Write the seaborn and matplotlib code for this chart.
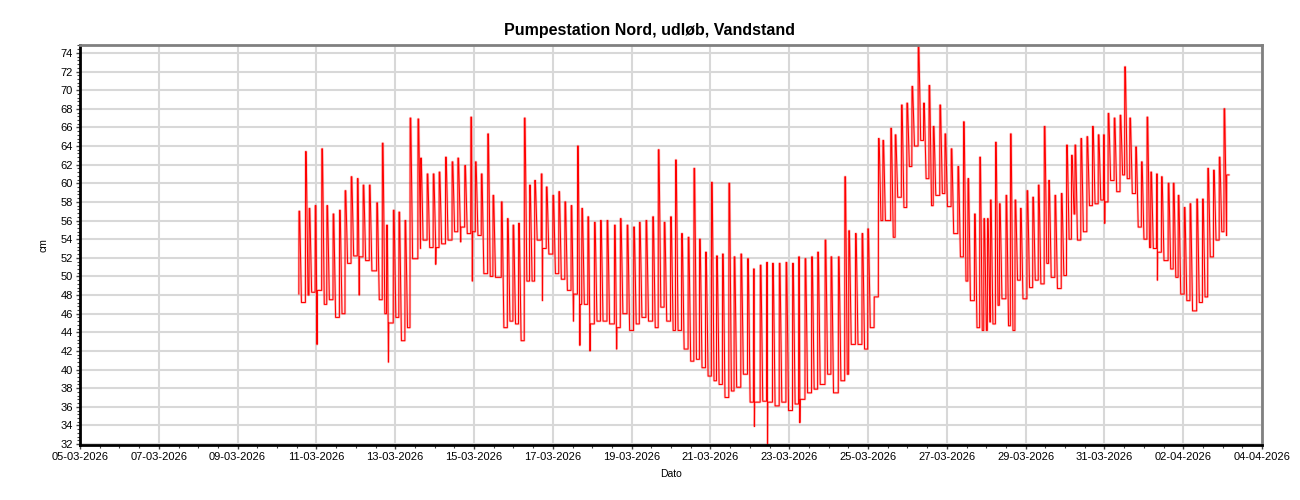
import numpy as np
import pandas as pd
import matplotlib
matplotlib.use("Agg")
import matplotlib.pyplot as plt
import matplotlib.dates as mdates
import seaborn as sns

# Pump cycles: hours after 10-03-2026 00:00, top level and level after the pump stops (cm)
tooth_hour = [13.3, 17.3, 19.5, 23.2, 27.2, 30.3, 34.1, 38.0, 41.4, 45.1,
              48.9, 52.4, 56.2, 60.7, 64.1, 66.7, 70.8, 74.2, 77.9, 81.0,
              85.8, 87.4, 91.4, 95.1, 98.7, 102.6, 106.6, 110.1, 114.3, 118.0,
              120.8, 124.4, 128.3, 131.5, 136.6, 140.3, 143.7, 147.1, 150.6, 153.8,
              156.9, 160.9, 164.0, 168.0, 171.6, 175.3, 179.1, 183.0, 185.6, 189.3,
              193.3, 197.0, 201.0, 205.5, 209.1, 213.2, 217.2, 220.7, 224.7, 228.8,
              232.2, 235.8, 239.7, 242.7, 246.4, 250.4, 253.9, 257.3, 261.0, 264.6,
              267.7, 271.3, 275.2, 278.4, 282.5, 286.6, 290.2, 294.3, 298.2, 301.8,
              305.9, 310.0, 314.0, 317.7, 321.6, 325.6, 329.3, 333.8, 337.4, 341.9,
              345.8, 348.2, 352.3, 356.3, 359.8, 363.7, 366.3, 369.0, 373.8, 376.5,
              380.3, 383.6, 386.7, 390.5, 393.8, 397.1, 399.7, 403.7, 406.8, 410.6,
              414.7, 418.1, 420.8, 424.8, 428.0, 430.5, 432.7, 434.5, 437.6, 440.0,
              444.0, 446.7, 449.5, 452.8, 456.8, 460.3, 463.7, 467.3, 470.0, 473.8,
              477.7, 480.9, 483.9, 486.0, 489.6, 493.3, 496.7, 500.2, 503.4, 506.2,
              509.9, 513.5, 516.3, 519.4, 523.0, 526.5, 529.9, 532.2, 535.7, 538.7,
              542.8, 545.9, 548.9, 552.6, 556.1, 560.2, 563.7, 566.9, 570.4, 573.9,
              576.8, 578.4]
tooth_peak = [57.0, 63.4, 57.3, 57.6, 63.7, 57.6, 56.7, 57.1, 59.2, 60.7,
              60.5, 59.8, 59.8, 57.9, 64.3, 55.5, 57.1, 56.9, 56.0, 67.0,
              66.9, 62.7, 61.0, 61.0, 61.2, 62.8, 62.3, 62.7, 61.9, 67.1,
              62.3, 61.0, 65.3, 58.7, 58.0, 56.2, 55.5, 55.7, 67.0, 59.8,
              60.3, 61.0, 59.6, 58.7, 59.1, 58.0, 57.6, 64.0, 57.3, 56.4,
              55.8, 56.0, 56.0, 55.5, 56.2, 55.5, 55.3, 55.8, 56.0, 56.4,
              63.6, 55.8, 56.4, 62.5, 54.6, 54.2, 61.6, 54.0, 52.6, 60.1,
              52.2, 52.4, 60.0, 52.1, 52.4, 51.9, 50.8, 51.2, 51.5, 51.4,
              51.4, 51.5, 51.4, 52.1, 51.9, 52.1, 52.6, 53.9, 52.1, 52.1,
              60.7, 54.9, 54.6, 54.6, 55.1, 47.8, 64.8, 64.6, 65.9, 65.2,
              68.4, 68.6, 70.4, 74.7, 68.6, 70.5, 66.1, 68.4, 65.3, 63.7,
              61.8, 66.6, 60.5, 56.7, 62.8, 56.2, 56.2, 58.2, 64.4, 57.8,
              58.7, 65.3, 58.2, 57.3, 59.2, 58.5, 59.8, 66.1, 60.3, 58.7,
              58.9, 64.1, 63.0, 64.1, 64.8, 65.0, 66.1, 65.2, 65.2, 67.5,
              67.0, 67.3, 72.5, 67.0, 63.9, 62.3, 67.1, 61.2, 61.0, 60.7,
              60.0, 60.0, 58.7, 57.4, 57.8, 58.3, 58.3, 61.6, 61.4, 62.8,
              68.0, 60.9]
tooth_low = [47.2, 48.0, 48.3, 48.5, 47.0, 47.5, 45.6, 46.0, 51.4, 52.2,
             52.1, 51.7, 50.6, 47.5, 46.0, 45.0, 45.6, 43.1, 44.5, 51.9,
             53.0, 53.9, 53.1, 53.1, 53.5, 53.9, 54.8, 55.3, 54.6, 54.8,
             54.4, 50.3, 50.0, 49.9, 44.5, 45.2, 44.9, 43.1, 49.5, 49.5,
             53.9, 53.0, 52.4, 50.3, 49.7, 48.5, 48.1, 47.0, 47.0, 44.9,
             45.2, 45.2, 44.9, 44.5, 46.0, 44.2, 44.9, 45.6, 45.2, 44.5,
             46.7, 45.2, 44.2, 44.2, 42.2, 40.9, 41.1, 40.2, 39.3, 38.8,
             38.4, 37.0, 37.7, 38.1, 39.5, 36.5, 36.5, 36.6, 36.5, 36.1,
             36.5, 35.6, 36.3, 36.8, 37.5, 37.9, 38.4, 39.5, 37.5, 38.8,
             39.5, 42.7, 42.7, 42.2, 44.5, 47.8, 56.0, 56.0, 54.2, 58.5,
             57.4, 61.8, 64.0, 64.6, 60.5, 57.6, 58.7, 58.9, 57.5, 54.6,
             52.1, 49.5, 47.4, 44.5, 44.2, 44.2, 45.1, 44.9, 46.9, 47.6,
             44.7, 44.2, 49.6, 47.6, 48.8, 49.6, 49.2, 51.4, 49.9, 48.7,
             50.1, 54.0, 56.7, 53.9, 54.8, 57.6, 57.8, 58.2, 58.0, 60.3,
             59.1, 60.9, 60.5, 58.9, 55.3, 54.0, 53.1, 53.0, 52.6, 51.7,
             50.8, 49.9, 48.1, 47.4, 46.3, 47.2, 47.8, 52.1, 53.9, 54.8,
             54.4, 60.9]
start_cm = 48.1

# short downward spikes
dip_hour = [24.4, 50.1, 67.9, 96.7, 111.9, 119.0, 161.7, 180.6, 184.5, 190.7,
            206.9, 290.8, 298.8, 318.5, 504.2, 536.3]
dip_cm = [42.7, 48.0, 40.8, 51.3, 53.7, 49.5, 47.4, 45.2, 42.6, 42.0,
          42.2, 33.9, 32.0, 34.3, 55.7, 49.6]

# build the line vertices: rise, short top, fall
hours, levels = [], []
prev = start_cm
for h, p, lo in zip(tooth_hour, tooth_peak, tooth_low):
    hours += [h, h + 0.1, h + 0.5, h + 1.6]
    levels += [prev, p, p, lo]
    prev = lo
tooth_hour_arr = np.array(tooth_hour)
for h, v in zip(dip_hour, dip_cm):
    i = np.searchsorted(tooth_hour_arr, h) - 1
    hours += [h, h + 0.15]
    levels += [v, tooth_low[i]]

df = pd.DataFrame({"hour": hours, "cm": levels}).sort_values("hour")
df["Dato"] = pd.Timestamp("2026-03-10") + pd.to_timedelta(df["hour"], unit="h")

sns.set_theme(style="white")
plt.rcParams["font.family"] = ["Liberation Sans", "DejaVu Sans"]
plt.rcParams["text.color"] = "black"
plt.rcParams["axes.labelcolor"] = "black"
plt.rcParams["xtick.color"] = "black"
plt.rcParams["ytick.color"] = "black"

fig = plt.figure(figsize=(13, 5), dpi=100)
ax = fig.add_axes([80 / 1300, 1 - 445 / 500, (1262 - 80) / 1300, (445 - 45) / 500])

# soft band under the trace (the original trace renders pinkish inside each pump cycle)
sns.lineplot(data=df, x="Dato", y="cm", ax=ax, color="#ff4040", linewidth=1.8,
             alpha=0.3, estimator=None, sort=False)
sns.lineplot(data=df, x="Dato", y="cm", ax=ax, color="#ff0000", linewidth=0.75,
             estimator=None, sort=False)

ax.set_xlim(pd.Timestamp("2026-03-05"), pd.Timestamp("2026-04-04"))
ax.set_ylim(31.9, 74.85)
ax.set_xticks(pd.date_range("2026-03-05", "2026-04-04", freq="2D"))
ax.set_xticks(pd.date_range("2026-03-05", "2026-04-04", freq="12h"), minor=True)
ax.xaxis.set_major_formatter(mdates.DateFormatter("%d-%m-%Y"))
ax.set_yticks(np.arange(32, 75, 2))
ax.set_yticks(np.arange(32, 74.9, 0.4), minor=True)

ax.grid(True, which="major", color="#d8d8d8", linewidth=1.5)
ax.set_axisbelow(True)
ax.tick_params(axis="both", which="major", labelsize=8, length=3, width=1,
               color="#444444", pad=2, bottom=True, left=True)
ax.tick_params(axis="both", which="minor", length=2, width=0.8, color="#444444",
               bottom=True, left=True)

for side in ["left", "bottom"]:
    ax.spines[side].set_color("black")
    ax.spines[side].set_linewidth(2)
for side in ["top", "right"]:
    ax.spines[side].set_color("#808080")
    ax.spines[side].set_linewidth(2)

ax.set_xlabel("Dato", fontsize=7.5, labelpad=5)
ax.set_ylabel("cm", fontsize=7.5, labelpad=9)
fig.suptitle("Pumpestation Nord, udløb, Vandstand", fontsize=11.5, fontweight="bold",
             x=0.5, y=0.953)

fig.savefig("out.png", dpi=100)
